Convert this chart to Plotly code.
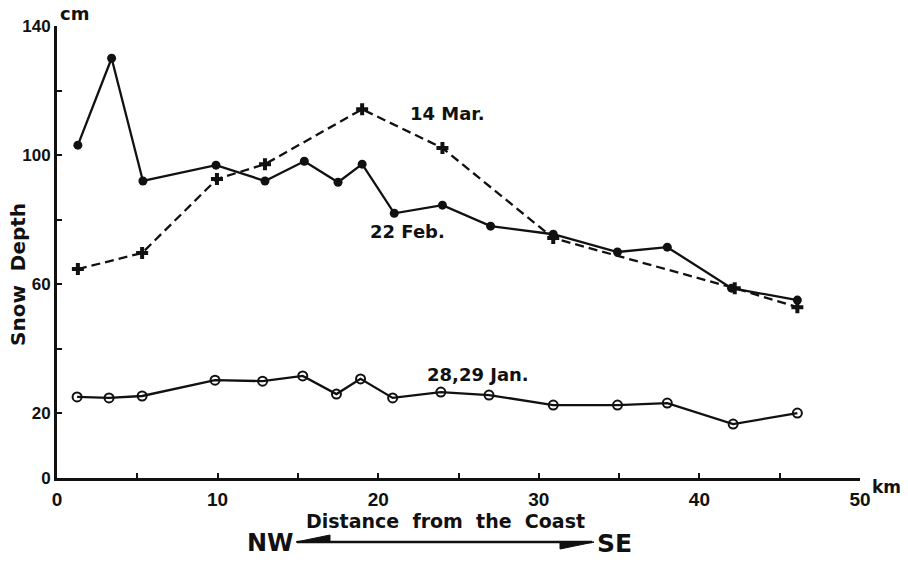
import plotly.graph_objects as go

# 22 Feb. (filled circles, solid)
feb_x = [1.3, 3.4, 5.35, 9.9, 12.95, 15.4, 17.5, 19.0, 21.0, 24.0, 27.0, 30.9, 34.9, 38.0, 42.0, 46.1]
feb_y = [103.1, 130.0, 92.0, 96.9, 92.0, 98.1, 91.6, 97.2, 82.0, 84.5, 78.0, 75.5, 70.0, 71.5, 58.8, 55.1]

# 14 Mar. (crosses, dashed)
mar_x = [1.3, 5.3, 9.96, 12.95, 19.0, 24.0, 30.9, 42.2, 46.1]
mar_y = [64.7, 69.7, 92.6, 97.2, 114.2, 102.2, 74.3, 58.8, 52.9]

# 28,29 Jan. (open circles, solid)
jan_x = [1.25, 3.24, 5.3, 9.84, 12.8, 15.3, 17.4, 18.9, 20.9, 23.9, 26.9, 30.9, 34.9, 38.0, 42.1, 46.1]
jan_y = [25.1, 24.8, 25.4, 30.3, 30.0, 31.6, 26.0, 30.7, 24.8, 26.6, 25.7, 22.6, 22.6, 23.2, 16.7, 20.1]

x_tickvals = [0, 5, 10, 15, 20, 25, 30, 35, 40, 45, 50]
x_ticktext = ["0", "", "10", "", "20", "", "30", "", "40", "", "50"]
y_tickvals = [0, 20, 40, 60, 80, 100, 120, 140]
y_ticktext = ["0", "20", "", "60", "", "100", "", "140"]

TICKFONT = "Liberation Sans, Arial, sans-serif"
FONT = "DejaVu Sans, Liberation Sans, sans-serif"
BLACK = "#111111"

fig = go.Figure()
fig.add_trace(go.Scatter(x=feb_x, y=feb_y, mode="lines+markers",
                         line=dict(color=BLACK, width=2.3),
                         marker=dict(symbol="circle", size=9, color=BLACK)))
fig.add_trace(go.Scatter(x=mar_x, y=mar_y, mode="lines+markers",
                         line=dict(color=BLACK, width=2.3, dash="9px,5px"),
                         marker=dict(symbol="cross", size=10, color=BLACK)))
fig.add_trace(go.Scatter(x=jan_x, y=jan_y, mode="lines+markers",
                         line=dict(color=BLACK, width=2.3),
                         marker=dict(symbol="circle-open", size=9, color=BLACK,
                                     line=dict(width=2, color=BLACK))))

fig.update_layout(
    width=908, height=564,
    margin=dict(l=57, r=48, t=26, b=86),
    paper_bgcolor="white", plot_bgcolor="white",
    showlegend=False,
    font=dict(family=FONT, color=BLACK, size=16),
)
fig.update_xaxes(range=[0, 50], tickvals=x_tickvals, ticktext=x_ticktext,
                 showgrid=False, zeroline=False, showline=True, linewidth=3,
                 linecolor=BLACK, ticks="inside", ticklen=5, tickwidth=2,
                 tickcolor=BLACK, automargin=False, ticklabelstandoff=2,
                 tickfont=dict(size=19, family=TICKFONT, weight="bold"))
fig.update_yaxes(range=[0, 140], tickvals=y_tickvals, ticktext=y_ticktext,
                 showgrid=False, zeroline=False, showline=True, linewidth=3,
                 linecolor=BLACK, ticks="inside", ticklen=5, tickwidth=2,
                 tickcolor=BLACK, ticklabelstandoff=0, automargin=False,
                 tickfont=dict(size=17, family=TICKFONT, weight="bold"))

def ann(text, x, y, size, xref="paper", yref="paper", angle=0):
    fig.add_annotation(text=text, x=x, y=y, xref=xref, yref=yref, showarrow=False,
                       xanchor="center", yanchor="middle", textangle=angle,
                       font=dict(size=size, family=FONT, color=BLACK, weight="bold"))

# series labels
ann("14 Mar.", 24.3, 113, 18, "x", "y")
ann("22 Feb.", 21.8, 76.2, 18, "x", "y")
ann("28,29 Jan.", 26.2, 32.2, 18, "x", "y")

def px(xp):
    return (xp - 57) / 803
def py(yp):
    return (478 - yp) / 452

ann("cm", px(74), py(14), 18)
ann("km", px(887), py(487), 17)
ann("Snow  Depth", px(18), py(275), 20, angle=-90)
ann("Distance  from  the  Coast", px(445), py(521), 19)
ann("NW", px(270), py(543), 24)
ann("SE", px(614), py(543), 25)

# NW <-> SE arrow
fig.add_shape(type="line", xref="paper", yref="paper",
              x0=px(297), y0=py(542), x1=px(592), y1=py(542),
              line=dict(color=BLACK, width=2.5))
fig.add_shape(type="path", xref="paper", yref="paper",
              path=f"M {px(296)},{py(542)} L {px(330)},{py(535)} L {px(330)},{py(542)} Z",
              fillcolor=BLACK, line=dict(color=BLACK, width=1))
fig.add_shape(type="path", xref="paper", yref="paper",
              path=f"M {px(594)},{py(542)} L {px(560)},{py(549)} L {px(560)},{py(542)} Z",
              fillcolor=BLACK, line=dict(color=BLACK, width=1))

fig.write_html("out.html", config={"displayModeBar": False},
               post_script="document.body.style.margin='0';")
